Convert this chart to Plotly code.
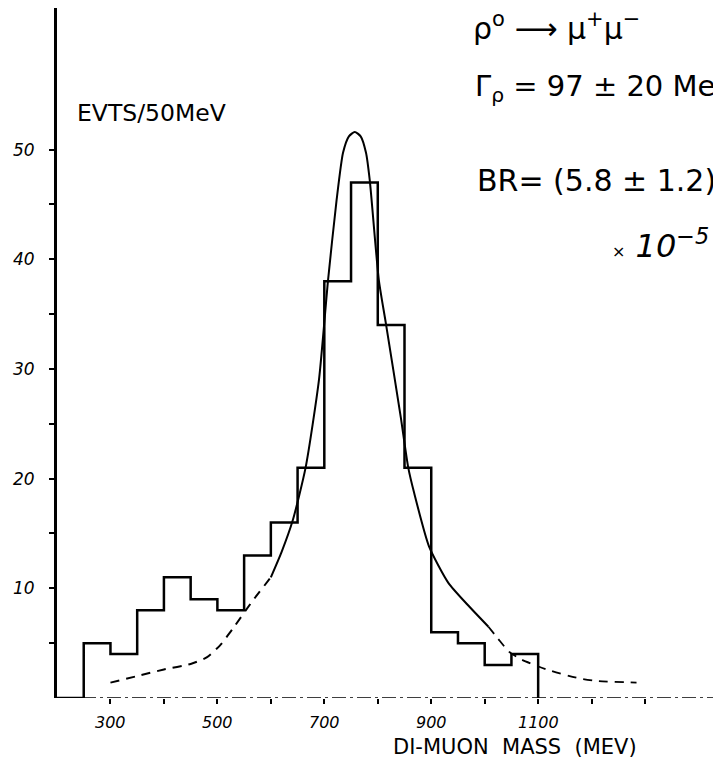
import plotly.graph_objects as go

# ---- data ----
bin_left = [250, 300, 350, 400, 450, 500, 550, 600, 650, 700, 750, 800, 850, 900, 950, 1000, 1050]
counts = [5, 4, 8, 11, 9, 8, 13, 16, 21, 38, 47, 34, 21, 6, 5, 3, 4]
hist_start = 200
hist_end = 1100

fit_left_dash_x = [300, 350, 400, 450, 480, 505, 530, 565, 600]
fit_left_dash_y = [1.4, 2.0, 2.6, 3.1, 3.7, 4.8, 6.4, 8.8, 11.0]
fit_solid_x = [600, 620, 641, 665, 690, 707, 723, 735, 746, 757, 768, 778, 785, 802, 815, 843, 857, 868, 896, 932, 968, 1007]
fit_solid_y = [11.0, 13.3, 16.2, 21.0, 29.0, 38.1, 45.4, 49.7, 51.2, 51.6, 51.2, 49.7, 47.2, 38.1, 34.2, 25.6, 21.0, 18.7, 13.8, 10.5, 8.5, 6.5]
fit_right_dash_x = [1007, 1025, 1046, 1069, 1119, 1176, 1213, 1284]
fit_right_dash_y = [6.5, 5.4, 4.2, 3.5, 2.55, 1.8, 1.55, 1.4]

x_tick_vals = [300, 400, 500, 600, 700, 800, 900, 1000, 1100, 1200, 1300]
x_label_vals = [300, 500, 700, 900, 1100]
x_label_text = ["300", "500", "700", "900", "1100"]
y_tick_vals = [5, 10, 15, 20, 25, 30, 35, 40, 45, 50]
y_label_vals = [10, 20, 30, 40, 50]
y_label_text = ["10", "20", "30", "40", "50"]

x_range = [200, 1442]
y_range = [0, 62.9]

TXT_FONT = "DejaVu Sans"

fig = go.Figure()

# histogram outline
hx = [hist_start] + bin_left + [hist_end]
hy = [0] + counts + [0]
fig.add_trace(go.Scatter(x=hx, y=hy, mode="lines", line=dict(color="black", width=2.5, shape="hv"),
                         cliponaxis=False, showlegend=False, hoverinfo="skip"))

# fitted curve (dashed outside the fitted region)
fig.add_trace(go.Scatter(x=fit_left_dash_x, y=fit_left_dash_y, mode="lines",
                         line=dict(color="black", width=2, dash="9px,7px", shape="spline", smoothing=0.6),
                         showlegend=False, hoverinfo="skip"))
fig.add_trace(go.Scatter(x=fit_solid_x, y=fit_solid_y, mode="lines",
                         line=dict(color="black", width=2, shape="spline", smoothing=0.6),
                         showlegend=False, hoverinfo="skip"))
fig.add_trace(go.Scatter(x=fit_right_dash_x, y=fit_right_dash_y, mode="lines",
                         line=dict(color="black", width=1.8, dash="9px,7px", shape="spline", smoothing=0.6),
                         showlegend=False, hoverinfo="skip"))

# x baseline (dash-dot, as in the original)
fig.add_shape(type="line", xref="paper", yref="y", x0=0, x1=1, y0=0, y1=0,
              line=dict(color="black", width=1.5, dash="14px,4px,3px,4px"), layer="below")

# the page has an 8px body margin: the plot area is placed to land where the original's is
fig.update_layout(
    width=721, height=756,
    margin=dict(l=49, r=8, t=0, b=66, autoexpand=False),
    paper_bgcolor="white", plot_bgcolor="white",
    font=dict(family=TXT_FONT, color="black"),
    xaxis=dict(range=x_range, showgrid=False, zeroline=False, showline=False,
               tickmode="array", tickvals=x_tick_vals, showticklabels=False,
               ticks="outside", ticklen=5, tickwidth=1.5, tickcolor="black"),
    yaxis=dict(range=y_range, showgrid=False, zeroline=False, showline=True,
               linecolor="black", linewidth=2.5,
               tickmode="array", tickvals=y_tick_vals, showticklabels=False,
               ticks="outside", ticklen=5, tickwidth=1.5, tickcolor="black"),
)

# tick labels, placed on the axes' own scales
for v, t in zip(x_label_vals, x_label_text):
    fig.add_annotation(xref="x", yref="paper", x=v, y=0, yshift=-24, xanchor="center", yanchor="middle",
                       text=t, showarrow=False, font=dict(size=16, family=TXT_FONT, style="italic"))
for v, t in zip(y_label_vals, y_label_text):
    fig.add_annotation(xref="paper", yref="y", x=0, y=v, xshift=-20, xanchor="right", yanchor="middle",
                       text=t, showarrow=False, font=dict(size=17, family=TXT_FONT, style="italic"))

def px_x(px):
    return (px - 57) / 664.0

def px_y(py):
    return (698 - py) / 690.0

fig.add_annotation(xref="paper", yref="paper", x=px_x(75), y=px_y(113), xanchor="left", yanchor="middle",
                   text="EVTS/50MeV", showarrow=False, font=dict(size=23.5, family=TXT_FONT))
fig.add_annotation(xref="paper", yref="paper", x=px_x(471), y=px_y(27), xanchor="left", yanchor="middle",
                   text="ρ<sup>o</sup> ⟶ μ<sup>+</sup>μ<sup>−</sup>", showarrow=False,
                   font=dict(size=30, family=TXT_FONT))
fig.add_annotation(xref="paper", yref="paper", x=px_x(473), y=px_y(88), xanchor="left", yanchor="middle",
                   text="Γ<sub>ρ</sub> = 97 ± 20 MeV", showarrow=False,
                   font=dict(size=29, family=TXT_FONT))
fig.add_annotation(xref="paper", yref="paper", x=px_x(475), y=px_y(180), xanchor="left", yanchor="middle",
                   text="BR= (5.8 ± 1.2)", showarrow=False,
                   font=dict(size=30, family=TXT_FONT))
fig.add_annotation(xref="paper", yref="paper", x=px_x(610), y=px_y(244), xanchor="left", yanchor="middle",
                   text="<span style='font-size:16px'>×</span> 10<sup>−5</sup>", showarrow=False,
                   font=dict(size=32, family=TXT_FONT, style="italic"))
fig.add_annotation(xref="paper", yref="paper", x=px_x(515), y=px_y(747), xanchor="center", yanchor="middle",
                   text="DI-MUON  MASS  (MEV)", showarrow=False,
                   font=dict(size=21, family=TXT_FONT))

fig.write_html("out.html")
